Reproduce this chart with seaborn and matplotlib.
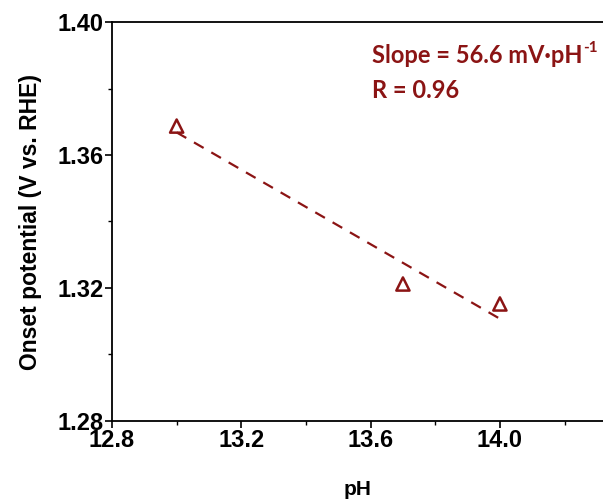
import numpy as np
import pandas as pd
import matplotlib
matplotlib.use("Agg")
import matplotlib.pyplot as plt
from matplotlib.ticker import MultipleLocator
from matplotlib import font_manager as fm
import seaborn as sns

ph = [13.0, 13.7, 14.0]
onset = [1.3687, 1.3212, 1.3152]
fit_x = [13.0, 14.0]
x_ticks = [12.8, 13.2, 13.6, 14.0]
y_ticks = [1.28, 1.32, 1.36, 1.40]
annot_slope = "Slope = 56.6 mV·pH"
annot_sup = "-1"
annot_r = "R = 0.96"

sns.set_theme(style="ticks")
plt.rcParams['font.family'] = ['Liberation Sans', 'DejaVu Sans']
plt.rcParams['text.color'] = 'black'
plt.rcParams['axes.labelcolor'] = 'black'
plt.rcParams['xtick.color'] = 'black'
plt.rcParams['ytick.color'] = 'black'

red = "#8B1414"
bold_path = None
for f in fm.fontManager.ttflist:
    if f.fname.endswith("Lato-Bold.ttf"):
        bold_path = f.fname
        break
if bold_path:
    def afp(size):
        return fm.FontProperties(fname=bold_path, size=size)
else:
    def afp(size):
        return fm.FontProperties(family="DejaVu Sans", weight="bold", size=size)

fig = plt.figure(figsize=(6.03, 5.01), dpi=100)
ax = fig.add_axes([112/603, 80/501, 491/603, 399/501])

coef = np.polyfit(ph, onset, 1)
fit_df = pd.DataFrame({"pH": fit_x, "fit": np.polyval(coef, fit_x)})
df = pd.DataFrame({"pH": ph, "onset": onset})

sns.lineplot(data=fit_df, x="pH", y="fit", ax=ax, color=red, lw=1.6,
             linestyle=(0, (5, 4)))
sns.scatterplot(data=df, x="pH", y="onset", ax=ax, marker="^", s=90,
                facecolor="none", edgecolor=red, linewidth=1.8, zorder=5)

ax.set_xlim(12.8, 12.8 + 491/129.3*0.4)
ax.set_ylim(1.28, 1.40)
ax.set_xticks(x_ticks)
ax.set_yticks(y_ticks)
ax.set_xticklabels([f"{v:.1f}" for v in x_ticks])
ax.set_yticklabels([f"{v:.2f}" for v in y_ticks])
ax.xaxis.set_minor_locator(MultipleLocator(0.2))
ax.yaxis.set_minor_locator(MultipleLocator(0.02))
ax.tick_params(axis="both", which="major", direction="out", length=5, width=1.2,
               labelsize=17, pad=1, colors="black")
ax.tick_params(axis="both", which="minor", direction="out", length=3, width=1.0)
for lab in ax.get_xticklabels() + ax.get_yticklabels():
    lab.set_fontweight("bold")
for s in ["left", "bottom", "top"]:
    ax.spines[s].set_linewidth(1.3)
    ax.spines[s].set_color("black")
ax.spines["right"].set_visible(False)

ax.set_xlabel("pH", fontsize=15, fontweight="bold", labelpad=20)
ax.set_ylabel("Onset potential (V vs. RHE)", fontsize=16.5, fontweight="bold", labelpad=11)

t1 = fig.text(372/603, 1 - 63/501, annot_slope, color=red,
              fontproperties=afp(17), va="baseline")
fig.text(372/603, 1 - 98/501, annot_r, color=red,
         fontproperties=afp(17), va="baseline")
fig.canvas.draw()
bb = t1.get_window_extent()
fig.text(bb.x1 / 603 + 1/603, 1 - 52/501, annot_sup, color=red,
         fontproperties=afp(11), va="baseline")

fig.savefig("out.png", dpi=100, facecolor="white")
